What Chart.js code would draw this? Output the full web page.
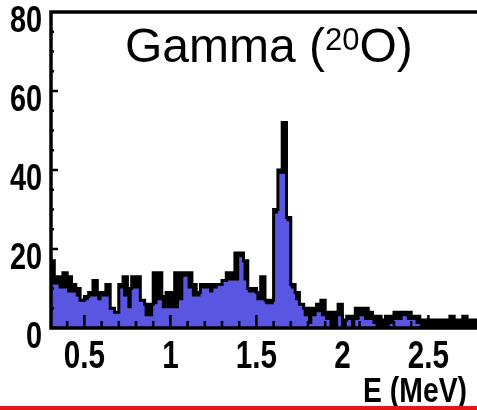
<!DOCTYPE html>
<html><head><meta charset="utf-8">
<script src="https://cdn.jsdelivr.net/npm/chart.js@4/dist/chart.umd.min.js"></script>
<style>
html,body{margin:0;padding:0;background:#fff;overflow:hidden;width:477px;height:410px;}
#wrap{position:absolute;left:0;top:0;width:480px;height:410px;}
#redbar{position:absolute;left:0;top:406px;width:477px;height:4px;background:#e8141b;}
</style></head><body>
<div id="wrap"><canvas id="c" width="480" height="410"></canvas></div>
<div id="redbar"></div>
<script>
const binLow = 0.3;
const binWidth = 0.025;
const totalCounts = [
 23,17,13,13,14,13,11,10,7,8,
 9,12,9,9,11,5,4,11,13,10,
 13,13,7,6,6,14,14,8,9,9,
 14,14,14,14,11,9,11,11,11,11,
 11,12,14,14,19,19,17,10,10,9,
 13,7,7,30,40,52,28,11,9,6,
 5,5,5,6,7,4,4,4,6,2,
 3,3,5,5,5,4,3,3,2,3,
 3,4,4,4,4,3,3,2,2,2,
 2,2,2,2,3,2,2,3,2,2];
const gatedCounts = [
 11,11,11,10,10,9,9,8,7,7,
 8,8,7,8,8,5,4,10,8,5,
 10,10,7,3,3,6,7,5,5,5,
 5,7,13,10,8,8,10,10,9,10,
 11,12,12,12,12,18,12,9,9,7,
 7,6,6,29,39,39,27,10,7,6,
 3,1,3,4,3,2,0,0,3,0,
 2,0,2,3,2,2,1,0,0,0,
 1,2,2,3,2,2,1,0,0,0,
 0,0,0,0,0,0,0,0,0,0];
const xTickValues = [0.5, 1, 1.5, 2, 2.5];
const xTickLabels = ['0.5', '1', '1.5', '2', '2.5'];
const yTickValues = [0, 20, 40, 60, 80];
const yTickLabels = ['0', '20', '40', '60', '80'];
const titleMain = 'Gamma (';
const titleSup = '20';
const titleEnd = 'O)';
const xAxisTitle = 'E (MeV)';

const BLUE = 'rgb(89,87,226)';
const SANS = "'Liberation Sans', Arial, sans-serif";
const SQUEEZE = 0.78;

function toSteps(counts) {
  const pts = counts.map((c, i) => ({x: binLow + i * binWidth, y: c}));
  pts.push({x: binLow + counts.length * binWidth, y: counts[counts.length - 1]});
  return pts;
}

// draw the library's own tick label items, horizontally condensed
function squeezeLabels(scale, k) {
  if (!scale || scale._squeezed) return;
  scale._squeezed = true;
  scale.drawLabels = function (chartArea) {
    const ctx = this.ctx;
    const items = this.getLabelItems(chartArea);
    for (const item of items) {
      const o = item.options;
      ctx.save();
      ctx.translate(o.translation[0], o.translation[1]);
      if (o.rotation) ctx.rotate(o.rotation);
      ctx.scale(k, 1);
      ctx.font = item.font.string;
      ctx.fillStyle = o.color;
      ctx.textAlign = o.textAlign;
      ctx.textBaseline = o.textBaseline;
      const lines = Array.isArray(item.label) ? item.label : [item.label];
      let y = item.textOffset;
      for (const l of lines) { ctx.fillText(l, 0, y); y += item.font.lineHeight; }
      ctx.restore();
    }
  };
}

const decor = {
  id: 'decor',
  beforeDraw(chart) {
    squeezeLabels(chart.scales.x, SQUEEZE);
    squeezeLabels(chart.scales.y, SQUEEZE);
  },
  afterDatasetsDraw(chart) {
    const {ctx, chartArea: a, scales: {x, y}} = chart;
    ctx.save();
    ctx.strokeStyle = '#000';
    ctx.lineWidth = 2.5;
    ctx.beginPath();
    for (let v = 5; v < 80; v += 5) {
      const py = y.getPixelForValue(v);
      const len = (v % 20 === 0) ? 8 : 4;
      ctx.moveTo(a.left, py); ctx.lineTo(a.left + len, py);
    }
    for (let k = 4; k <= 27; k++) {
      const px = x.getPixelForValue(k / 10);
      const len = (k % 5 === 0) ? 13 : 7;
      ctx.moveTo(px, a.bottom); ctx.lineTo(px, a.bottom - len);
    }
    ctx.stroke();
    ctx.lineWidth = 3.5;
    ctx.lineCap = 'square';
    ctx.beginPath();
    ctx.moveTo(a.right, a.top);
    ctx.lineTo(a.left + 1, a.top);
    ctx.lineTo(a.left + 1, a.bottom);
    ctx.lineTo(a.right, a.bottom);
    ctx.stroke();
    ctx.restore();
  },
  afterDraw(chart) {
    const {ctx} = chart;
    ctx.save();
    ctx.fillStyle = '#000';
    ctx.textBaseline = 'alphabetic';
    ctx.textAlign = 'left';
    ctx.font = "48px " + SANS;
    let tx = 125;
    ctx.fillText(titleMain, tx, 62);
    tx += ctx.measureText(titleMain).width;
    ctx.font = "31px " + SANS;
    ctx.fillText(titleSup, tx, 50);
    tx += ctx.measureText(titleSup).width;
    ctx.font = "48px " + SANS;
    ctx.fillText(titleEnd, tx, 62);
    ctx.translate(467, 402);
    ctx.scale(0.81, 1);
    ctx.textAlign = 'right';
    ctx.font = "bold 35px " + SANS;
    ctx.fillText(xAxisTitle, 0, 0);
    ctx.restore();
  }
};

new Chart(document.getElementById('c'), {
  type: 'line',
  data: {
    datasets: [
      {label: 'total outline', data: toSteps(totalCounts), stepped: 'after', borderColor: '#000', borderWidth: 3,
       pointRadius: 0, fill: false, order: 1},
      {label: 'gated', data: toSteps(gatedCounts), stepped: 'after', borderColor: 'rgba(0,0,0,0)', borderWidth: 0,
       pointRadius: 0, fill: 'origin', backgroundColor: BLUE, order: 2},
      {label: 'total', data: toSteps(totalCounts), stepped: 'after', borderColor: 'rgba(0,0,0,0)', borderWidth: 0,
       pointRadius: 0, fill: 'origin', backgroundColor: '#000', order: 3}
    ]
  },
  options: {
    responsive: false,
    devicePixelRatio: 1,
    animation: false,
    layout: {padding: {top: 12, left: 0, right: 0, bottom: 0}},
    plugins: {legend: {display: false}, tooltip: {enabled: false}},
    scales: {
      x: {
        type: 'linear', min: 0.3, max: 2.8,
        afterBuildTicks: s => { s.ticks = xTickValues.map(v => ({value: v})); },
        afterFit: s => { s.height = 82; s.paddingLeft = 0; s.paddingRight = 0; },
        grid: {display: false, drawTicks: false},
        border: {display: false},
        ticks: {
          padding: 7, color: '#000', maxRotation: 0, autoSkip: false,
          font: {family: SANS, weight: 'bold', size: 38},
          callback: (v, i) => xTickLabels[i]
        }
      },
      y: {
        type: 'linear', min: 0, max: 80,
        afterBuildTicks: s => { s.ticks = yTickValues.map(v => ({value: v})); },
        afterFit: s => { s.width = 50; s.paddingTop = 0; s.paddingBottom = 0; },
        grid: {display: false, drawTicks: false},
        border: {display: false},
        ticks: {
          padding: 8, labelOffset: 10, color: '#000', autoSkip: false,
          font: {family: SANS, weight: 'bold', size: 37},
          callback: (v, i) => yTickLabels[i]
        }
      }
    }
  },
  plugins: [decor]
});
</script>
</body></html>
